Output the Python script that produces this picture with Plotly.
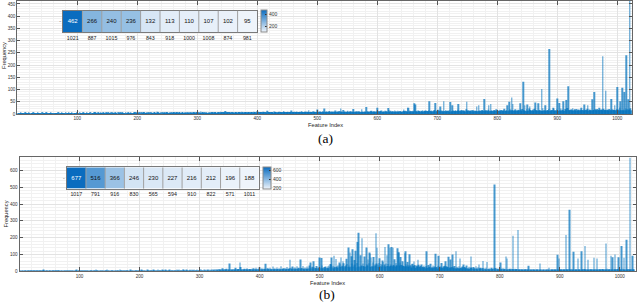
import plotly.graph_objects as go

# ---------------- data: panel (a) ----------------
a_base = [
    2,1,3,0,2,4,1,2,3,1,0,2,5,1,2,3, 2,1,4,2,1,0,3,2,1,2,6,1,3,2,0,1, 2,4,1,3,2,1,2,0,3,5,2,1,2,3,1,4, 2,1,0,2,3,1,2,4,1,3,2,0,1,2,3,1,
    3,2,1,4,2,0,1,3,2,5,1,2,3,1,2,0, 4,2,1,3,2,7,1,2,3,1,4,2,0,1,3,2, 2,1,5,3,1,2,0,4,2,1,3,2,1,6,2,3, 1,0,2,4,1,2,3,1,2,5,0,2,1,3,2,4,
    2,4,1,3,2,0,5,2,1,3,4,2,1,2,6,3, 1,0,2,4,3,1,2,5,2,1,3,0,4,2,8,1, 3,2,4,1,2,3,0,5,2,1,3,4,2,1,6,2, 3,1,2,0,4,3,2,1,5,2,3,1,4,2,0,3,
    3,2,5,1,4,2,3,6,1,2,4,3,0,2,5,1, 3,4,2,7,1,3,2,4,1,5,3,2,0,4,2,6, 3,1,2,4,5,2,1,3,9,2,4,1,3,2,5,0, 3,4,2,1,6,3,2,4,1,5,2,3,1,4,2,3,
    4,2,3,5,1,6,3,2,4,1,7,3,2,5,4,1, 3,2,6,4,2,1,5,3,8,2,4,1,3,6,2,5, 3,1,4,2,7,3,5,1,2,4,6,3,2,5,1,4, 3,10,2,5,4,1,3,6,2,4,3,5,1,2,7,3,
    5,3,6,2,4,8,3,5,2,4,7,3,1,5,6,2, 4,3,9,5,2,4,6,3,5,2,12,4,3,6,2,5, 4,7,3,2,5,6,4,3,8,2,5,4,6,3,2,7, 5,4,3,6,2,9,4,5,3,6,2,4,7,5,3,4,
    6,4,8,3,5,7,4,6,3,9,5,4,7,3,6,11, 4,5,8,3,6,4,7,5,3,9,6,4,5,8,3,7, 13,4,6,5,3,8,4,7,5,6,3,10,4,6,8,5, 3,7,4,6,9,5,4,8,3,6,5,12,4,7,6,5,
    7,5,9,4,6,8,5,7,14,6,4,8,5,9,6,7, 4,10,6,5,8,7,4,9,6,12,5,8,7,6,4,10, 7,5,9,8,6,15,5,7,9,6,8,4,11,7,6,9, 5,8,6,18,7,5,9,6,10,7,8,5,12,6,9,7,
    8,6,10,5,9,7,8,12,6,9,7,11,8,5,10,7, 9,14,6,8,10,7,9,6,12,8,7,10,9,6,16,8, 7,11,9,8,6,10,13,7,9,8,11,6,10,7,9,15, 8,6,10,9,7,12,8,11,6,9,10,7,8,19,9,7,
    9,7,11,8,10,6,9,12,7,10,8,11,9,13,8,10, 7,12,9,11,8,10,9,14,8,11,10,7,12,9,14,8, 10,9,11,7,13,10,8,12,9,11,16,8,10,13,9,11, 8,12,10,9,14,7,11,10,9,13,8,11,10,12,9,8,
    10,8,12,9,11,9,13,10,12,8,14,11,10,14,9,12, 11,10,13,9,12,16,11,11,10,13,9,14,11,12,10,8, 13,11,10,15,9,12,11,14,10,13,12,9,11,15,10,12, 13,9,14,11,10,12,16,13,11,9,14,12,10,17,13,11,
    12,10,14,11,13,9,15,12,11,16,10,13,12,14,11,9, 15,13,10,12,18,11,14,12,10,13,15,11,12,17,10,14, 13,11,12,16,10,13,15,12,11,14,10,19,12,13,11,15, 12,10,14,13,11,16,12,10,15,13,11,14,12,17,10,13,
    13,11,15,12,14,10,16,13,12,18,11,14,13,15,12,10, 17,14,11,13,20,12,15,13,11,14,16,12,13,19,11,15, 14,12,13,17,11,14,16,13,12,15,11,21,13,14,12,16, 13,11,15,14,12,18,13,11,16,14,12,15,13,19,11,14,
    14,12,17,13,15,11,18,14,13,20,12,16,14,17,13,11, 19,15,12,14,22,13,16,14,12,15,18,13,14,21,12,16, 15,13,14,19,12,15,17,14,13,16,12,23,14,15,13,17, 14,12,16,15,13,20,14,12,17,15,13,16,14,21,12,15,
    15,13,18,14,16,12,19,15,14,22,13,17,15,18,14,12, 20,16,13,15,24,14,17,15,13,16,19,14,15,23,13,17, 16,14,15,20,13,16,18,15,14,17,13,25,15,16,14,18, 15,13,17,16,14,21,15,13,18,16,14,17,15,22,13,16,
    16,14,19,15,17,13,20,16,15,23,14,18,16,19,15,13, 21,17,14,16,25,15,18,16,14,17,20,15,16,24,14,18, 17,15,16,21,14,17,19,16,15,18,14,26,16,17,15,19, 16,14,18,17,15,22,16,14,19,17,15,18,16,23,14,17,
]
a_peak_idx = [500,512,539,560,582,600,618,644,651,652,662,663,687,697,705,711,722,725,735,749,
              766,769,778,786,789,817,820,824,826,838,846,850,854,863,868,880,893,900,903,910,
              915,929,945,951,958,962,970,990,996,1005,1012,1018]
a_peak_val = [18,22,22,20,28,25,24,18,25,25,43,38,52,45,30,52,49,35,40,50,
              30,35,61,35,40,35,50,67,40,44,35,38,30,47,43,35,25,63,45,52,
              57,20,38,35,60,90,25,61,35,52,90,60]
a_top_idx = [1021, 887, 1015, 976, 843, 918, 1000, 1008, 874, 981]
a_top_val = [462, 266, 240, 236, 132, 113, 110, 107, 102, 95]

# ---------------- data: panel (b) ----------------
b_base = [
    2,1,0,3,1,2,0,1,4,2,1,0,2,3,1,0, 2,1,5,2,0,1,3,1,2,0,1,2,4,1,0,2, 1,3,2,0,1,2,1,6,2,1,0,3,1,2,1,0, 2,4,1,3,0,2,1,2,3,1,0,2,1,4,2,1,
    1,3,2,0,1,2,4,1,0,2,3,1,2,1,0,5, 2,1,3,0,2,1,2,4,1,0,3,2,1,2,7,1, 0,2,3,1,2,4,1,0,2,3,1,2,0,1,5,2, 3,1,0,2,1,4,2,3,1,0,2,1,3,2,8,1,
    3,1,2,4,0,2,1,3,5,2,1,0,3,2,4,1, 2,6,1,3,2,0,4,1,2,3,1,5,2,0,3,1, 2,4,2,1,3,0,6,2,1,3,4,2,1,0,3,2, 5,1,2,4,3,1,0,2,7,3,1,2,4,0,3,2,
    2,4,1,3,5,2,0,4,3,1,6,2,3,1,4,2, 5,0,3,2,7,4,1,3,2,5,1,4,3,2,8,1, 3,5,2,4,0,3,6,2,1,4,3,5,2,9,3,1, 4,2,6,3,1,5,4,2,3,7,1,4,2,3,5,2,
    4,2,5,3,1,6,4,2,3,8,5,1,4,3,2,6, 10,3,5,2,4,7,3,1,5,4,2,6,3,5,9,2, 4,3,6,1,5,4,2,7,3,5,4,2,6,12,3,4, 5,2,7,3,6,4,2,5,8,3,4,6,2,5,11,4,
    6,4,8,5,3,12,7,4,9,6,5,14,8,4,10,6, 7,18,5,9,6,12,8,7,15,5,10,8,6,20,9,7, 11,5,8,13,6,10,7,22,9,6,12,8,14,7,10,25, 8,11,6,13,9,7,16,10,8,12,19,9,11,7,14,10,
    12,8,15,10,9,18,11,14,8,22,12,10,16,9,13,24, 11,15,10,19,12,9,17,14,11,26,13,10,18,12,15,9, 21,13,16,11,14,28,12,10,17,13,15,11,23,14,12,19, 10,16,13,30,12,15,11,18,14,20,13,10,16,25,12,15,
    14,18,12,22,16,13,28,15,19,12,24,17,14,30,16,13, 21,18,15,26,14,20,17,32,15,19,13,23,18,16,28,14, 21,17,35,15,19,22,16,27,18,14,24,17,20,15,31,19, 16,23,18,26,17,21,15,34,19,22,18,25,16,29,20,17,
    22,30,18,35,25,20,40,28,24,33,19,38,27,22,45,26, 31,21,36,29,24,42,27,20,34,30,25,48,23,32,28,37, 21,44,26,30,35,24,39,28,22,46,31,27,36,25,41,29, 23,50,33,26,38,30,24,43,28,34,22,47,31,27,40,25,
    30,26,42,35,28,48,31,38,27,45,33,29,52,36,30,40, 34,28,46,32,39,27,50,35,31,43,29,37,33,55,30,41, 36,28,47,34,32,44,38,29,51,33,40,35,30,46,37,31, 42,28,49,36,33,45,30,39,34,53,32,38,29,44,35,31,
    28,34,25,40,30,22,38,27,33,24,36,29,21,42,26,31, 23,37,28,20,35,25,30,22,39,27,24,33,19,36,26,29, 21,34,25,18,31,23,28,20,37,24,27,19,32,22,26,18, 35,23,29,20,30,21,25,17,33,22,27,19,28,21,24,18,
    22,28,18,33,24,17,30,21,26,16,31,23,19,35,20,25, 17,29,22,15,32,19,24,16,27,21,18,30,15,25,20,23, 14,28,19,16,26,18,22,14,24,17,20,13,27,16,21,15, 23,18,14,25,17,19,13,22,16,20,12,24,15,18,14,21,
    16,12,20,14,11,18,15,13,22,10,17,14,12,19,11,16, 13,21,10,15,12,18,14,11,20,9,16,13,17,10,14,12, 19,11,15,9,18,13,10,16,12,14,9,17,11,13,10,15, 12,8,16,11,14,10,13,9,15,12,11,14,10,13,9,12,
    10,8,12,9,7,11,8,10,6,9,12,7,8,10,6,9, 11,7,8,5,10,7,9,6,8,11,5,7,9,6,10,8, 5,7,9,6,8,10,5,7,6,9,8,5,7,10,6,8, 7,9,5,8,6,10,7,9,6,8,11,7,9,6,10,8,
    9,11,7,10,8,12,9,7,11,8,13,9,10,7,12,8, 11,9,14,8,10,7,12,9,11,8,13,10,9,7,12,8, 11,10,9,13,8,10,7,11,9,12,8,10,14,9,11,8, 10,7,12,9,11,8,13,10,9,12,8,11,10,9,12,8,
    10,12,8,11,9,13,10,8,12,9,14,10,11,8,13,9, 12,10,15,9,11,8,13,10,12,9,14,11,10,8,13,9, 12,11,10,14,9,11,8,12,10,13,9,11,15,10,12,9, 11,8,13,10,12,9,14,11,10,13,9,12,11,10,13,9,
]
b_peak_idx = [350,367,410,451,468,485,490,500,503,518,520,524,527,533,536,539,545,548,551,553,
              555,558,560,563,568,575,578,581,583,584,586,590,596,600,605,609,612,615,617,620,
              622,625,630,631,632,635,638,642,643,646,650,655,657,664,670,678,685,693,698,703,
              710,715,718,721,727,734,740,745,752,760,765,772,779,801,810,812,848,867,882,896,
              899,923,930,936,942,947,957,962,977,985,988,992,998,1003,1007,1021]
b_peak_val = [47,53,45,69,71,53,60,82,79,43,82,92,73,53,82,60,75,141,112,90,
              132,68,122,175,95,88,141,70,112,105,82,85,140,78,65,145,95,161,140,145,
              140,72,137,113,112,85,60,107,120,55,102,45,59,69,40,120,45,104,92,50,
              60,86,70,100,120,76,40,35,88,30,40,61,55,53,88,76,33,47,22,98,
              76,116,76,120,151,69,80,76,165,92,84,100,84,151,80,92]
b_top_idx = [1017, 791, 916, 830, 565, 594, 910, 822, 571, 1011]
b_top_val = [677, 516, 366, 246, 230, 227, 216, 212, 196, 188]

a_xticks = [100, 200, 300, 400, 500, 600, 700, 800, 900, 1000]
a_yticks = [0, 50, 100, 150, 200, 250, 300, 350, 400, 450]
b_yticks = [0, 100, 200, 300, 400, 500, 600]
a_cbticks = [200, 400]
b_cbticks = [200, 400, 600]
N_FEAT = 1024


def build(base, pidx, pval, tidx, tval):
    v = list(base[:N_FEAT]) + [0] * max(0, N_FEAT - len(base))
    for i, val in zip(pidx, pval):
        v[i - 1] = val
    for i, val in zip(tidx, tval):
        v[i - 1] = val
    return v


a_vals = build(a_base, a_peak_idx, a_peak_val, a_top_idx, a_top_val)
b_vals = build(b_base, b_peak_idx, b_peak_val, b_top_idx, b_top_val)
feat = list(range(1, N_FEAT + 1))

W, H = 640, 308
def fx(p): return p / W
def fy(p): return 1 - p / H

FONT = "Liberation Sans, Arial, sans-serif"
BAR = "#0072BD"
CSCALE = [[0, "#eef4fb"], [1, "#0a6cbf"]]

fig = go.Figure()
fig.add_trace(go.Bar(x=feat, y=a_vals, marker=dict(color=BAR, opacity=0.72, line=dict(width=0)),
                     xaxis="x", yaxis="y", showlegend=False))
fig.add_trace(go.Bar(x=feat, y=b_vals, marker=dict(color=BAR, opacity=0.72, line=dict(width=0)),
                     xaxis="x2", yaxis="y2", showlegend=False))


def inset(tidx, tval, xa, ya, cbx, cby, cbthick, cbticks):
    zmin, zmax = min(tval), max(tval)
    pos = list(range(len(tval)))
    fig.add_trace(go.Heatmap(
        z=[tval], x=pos, y=[0], zmin=zmin, zmax=zmax, colorscale=CSCALE,
        xaxis=xa, yaxis=ya, hoverinfo="skip",
        colorbar=dict(x=cbx, xanchor="left", y=cby, yanchor="middle",
                      len=22, lenmode="pixels", thickness=cbthick, thicknessmode="pixels",
                      xpad=0, ypad=0, outlinewidth=1, outlinecolor="#8a8a8a",
                      tickvals=cbticks, ticks="inside", ticklen=2, tickcolor="#333",
                      tickfont=dict(size=5, color="#333", family=FONT))))
    cols = ["white" if (v - zmin) / (zmax - zmin) > 0.75 else "#111" for v in tval]
    fig.add_trace(go.Scatter(x=pos, y=[0] * len(tval), mode="text",
                             text=[str(v) for v in tval],
                             textfont=dict(size=6, color=cols, family=FONT),
                             xaxis=xa, yaxis=ya, hoverinfo="skip", showlegend=False))
    for k in pos[:-1]:
        fig.add_shape(type="line", xref=xa, yref=ya, x0=k + 0.5, x1=k + 0.5,
                      y0=-0.5, y1=0.5, line=dict(color="#a0a0a0", width=1))


inset(a_top_idx, a_top_val, "x3", "y3", fx(261), fy(21.7), 6, a_cbticks)
inset(b_top_idx, b_top_val, "x4", "y4", fx(263), fy(179.8), 8, b_cbticks)


def main_x(domain, anchor, rng):
    return dict(domain=domain, anchor=anchor, range=rng, tickmode="array", tickvals=a_xticks,
                ticks="inside", ticklen=4, tickcolor="#555", showline=True, linecolor="#666",
                linewidth=1, mirror="ticks", showgrid=True, gridcolor="#e3e3e3", gridwidth=1,
                minor=dict(tickmode="linear", tick0=0, dtick=20, showgrid=True,
                           gridcolor="#f1f1f1", ticks=""),
                tickfont=dict(size=4.6, color="#333", family=FONT), zeroline=False)


def main_y(domain, anchor, rng, tv, mdt):
    return dict(domain=domain, anchor=anchor, range=rng, tickmode="array", tickvals=tv,
                ticks="inside", ticklen=3, tickcolor="#555", showline=True, linecolor="#666",
                linewidth=1, mirror="ticks", showgrid=True, gridcolor="#e3e3e3", gridwidth=1,
                minor=dict(tickmode="linear", tick0=0, dtick=mdt, showgrid=True,
                           gridcolor="#f1f1f1", ticks=""),
                tickfont=dict(size=4.6, color="#333", family=FONT), zeroline=False)


def inset_x(domain, anchor, tidx):
    return dict(domain=domain, anchor=anchor, range=[-0.5, len(tidx) - 0.5],
                tickmode="array", tickvals=list(range(len(tidx))),
                ticktext=[str(i) for i in tidx], ticks="", showgrid=False, zeroline=False,
                showline=True, mirror=True, linecolor="#7a7a7a", linewidth=1,
                tickfont=dict(size=5.3, color="#222", family=FONT))


def inset_y(domain, anchor):
    return dict(domain=domain, anchor=anchor, range=[-0.5, 0.5], tickmode="array",
                tickvals=[0], ticktext=["-"], ticks="", showgrid=False, zeroline=False,
                showline=True, mirror=True, linecolor="#7a7a7a", linewidth=1,
                tickfont=dict(size=5, color="#555", family=FONT))


annos = []
def txt(s, x, y, size, angle=0, family=FONT, color="#262626"):
    annos.append(dict(text=s, x=x, y=y, xref="paper", yref="paper", showarrow=False,
                      xanchor="center", yanchor="middle", textangle=angle,
                      font=dict(size=size, family=family, color=color)))

txt("Frequency", fx(4.5), fy(56), 5.7, -90)
txt("Feature Index", fx(325), fy(126.5), 5.7)
txt("(a)", fx(325), fy(140), 13.5, family="Liberation Serif, Times New Roman, serif", color="#000")
txt("Frequency", fx(5.5), fy(216), 5.7, -90)
txt("Feature Index", fx(327), fy(286), 5.7)
txt("(b)", fx(327), fy(297.5), 13.5, family="Liberation Serif, Times New Roman, serif", color="#000")

fig.update_layout(
    width=W, height=H, autosize=False, margin=dict(l=0, r=0, t=0, b=0, pad=0),
    paper_bgcolor="white", plot_bgcolor="white", bargap=0.25, showlegend=False,
    xaxis=main_x([fx(17.3), fx(631.7)], "y", [0, 1024]),
    yaxis=main_y([fy(115), fy(1)], "x", [0, 462], a_yticks, 10),
    xaxis2=main_x([fx(19.5), fx(636)], "y2", [0, 1027]),
    yaxis2=main_y([fy(274), fy(159)], "x2", [0, 677], b_yticks, 20),
    xaxis3=inset_x([fx(63), fx(257)], "y3", a_top_idx),
    yaxis3=inset_y([fy(32.7), fy(10.7)], "x3"),
    xaxis4=inset_x([fx(66.7), fx(259)], "y4", b_top_idx),
    yaxis4=inset_y([fy(190.7), fy(169)], "x4"),
    annotations=annos,
    font=dict(family=FONT),
)

fig.write_html("out.html", config={"displayModeBar": False},
               post_script="document.body.style.margin='0';document.body.style.padding='0';")
